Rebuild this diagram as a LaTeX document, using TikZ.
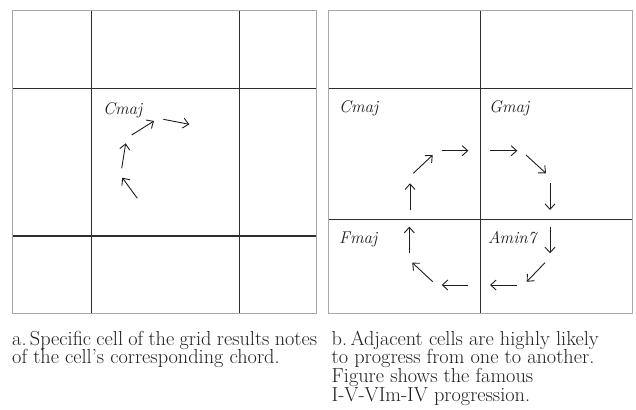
\documentclass[tikz,border=0pt]{standalone}
\usetikzlibrary{arrows.meta}
\definecolor{gridc}{HTML}{2E2E2E}
\definecolor{framec}{HTML}{A8A8A8}
\definecolor{inkc}{HTML}{1E1E1E}
\tikzset{
  gridline/.style={draw=gridc, line width=1.3pt},
  frameline/.style={draw=framec, line width=0.9pt},
  prog/.style={draw=inkc, line width=0.9pt, -{Straight Barb[length=5.5pt,width=10pt,line width=0.9pt]}},
  chord/.style={font=\fontsize{17}{20}\selectfont\itshape, text=inkc, anchor=base west, inner sep=0pt},
  capline/.style={font=\fontsize{20.3}{18.6}\selectfont, text=inkc, anchor=base west, inner sep=0pt}
}
\begin{document}
\begin{tikzpicture}[x=1pt,y=-1pt]
\useasboundingbox (0,0) rectangle (636,409);
% ---------- left panel ----------
\draw[gridline] (91.7,10) -- (91.7,313);
\draw[gridline] (239.3,10) -- (239.3,313);
\draw[gridline] (12.3,88.3) -- (316,88.3);
\draw[gridline] (12.3,236) -- (316,236);
\draw[frameline] (12.3,10) rectangle (316,313);
\node[chord] (lc) at (103,114) {Cmaj};
\coordinate (l0) at (137.3,198.3);
\coordinate (l1) at (122.3,177.7);
\coordinate (l2) at (121.7,168.3);
\coordinate (l3) at (125.7,143.3);
\coordinate (l4) at (131.7,135);
\coordinate (l5) at (154,121);
\coordinate (l6) at (163.3,119.3);
\coordinate (l7) at (189.3,124.3);
\draw[prog] (l0) -- (l1);
\draw[prog] (l2) -- (l3);
\draw[prog] (l4) -- (l5);
\draw[prog] (l6) -- (l7);
% ---------- right panel ----------
\draw[gridline] (480.7,10) -- (480.7,313);
\draw[gridline] (328.3,88.3) -- (632,88.3);
\draw[gridline] (328.3,219.3) -- (632,219.3);
\draw[frameline] (328.3,10) rectangle (632,313);
\node[chord] (rc) at (339,112) {Cmaj};
\node[chord] (rg) at (489,112) {Gmaj};
\node[chord] (rf) at (339,243) {Fmaj};
\node[chord] (ra) at (488,243) {Amin7};
\coordinate (a0) at (410,210);   \coordinate (a1) at (410,183.3);
\coordinate (b0) at (413.3,173.3); \coordinate (b1) at (432.7,155);
\coordinate (c0) at (441.7,150.7); \coordinate (c1) at (468.3,150.7);
\coordinate (d0) at (490,150.7); \coordinate (d1) at (517.3,150.7);
\coordinate (e0) at (526,155);   \coordinate (e1) at (546,173.3);
\coordinate (f0) at (550,183.3); \coordinate (f1) at (550,210);
\coordinate (g0) at (550,226.7); \coordinate (g1) at (550,253.3);
\coordinate (h0) at (545,262.7); \coordinate (h1) at (526.7,281.7);
\coordinate (i0) at (516.7,285); \coordinate (i1) at (490,285);
\coordinate (j0) at (468.3,285); \coordinate (j1) at (441.7,285);
\coordinate (k0) at (432.7,281.7); \coordinate (k1) at (412.3,262.7);
\coordinate (m0) at (409.3,253.3); \coordinate (m1) at (409.3,226.7);
\foreach \p in {a,b,c,d,e,f,g,h,i,j,k,m}{\draw[prog] (\p0) -- (\p1);}
% ---------- captions ----------
\node[capline] (capa1) at (12,345) {\makebox[305pt][s]{a.\,Specific cell of the grid results notes}};
\node[capline] (capa2) at (12,363.6) {of the cell's corresponding chord.};
\node[capline] (capb1) at (331.5,345) {b.\,Adjacent cells are highly likely};
\node[capline] (capb2) at (331.5,363.6) {to progress from one to another.};
\node[capline] (capb3) at (331.5,382.3) {Figure shows the famous};
\node[capline] (capb4) at (331.5,401) {I-V-VIm-IV progression.};
\end{tikzpicture}
\end{document}
